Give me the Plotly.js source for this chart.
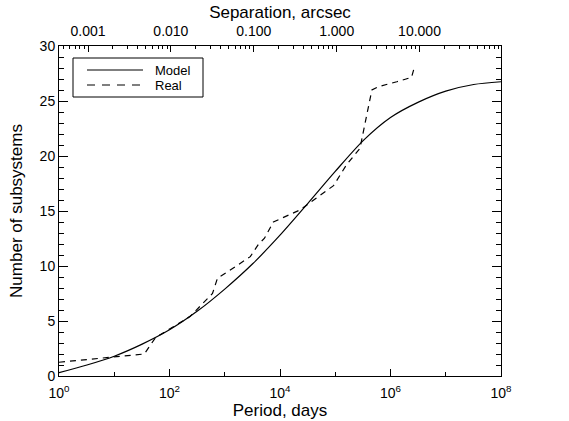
<!DOCTYPE html>
<html><head><meta charset="utf-8">
<script src="https://cdn.plot.ly/plotly-3.0.1.min.js"></script>
<style>html,body{margin:0;padding:0;background:#fff}</style>
</head><body><div id="chart" style="width:569px;height:421px"></div>
<script>
// Model curve: period (days) vs number of subsystems
const modelPeriod = [1, 3.2, 10, 32, 100, 320, 1000, 3200, 1e4, 3.2e4, 1e5, 3.2e5, 1e6, 3.2e6, 1e7, 3.2e7, 1e8];
const modelCount  = [0.3, 1.0, 1.8, 2.9, 4.2, 5.9, 7.9, 10.2, 12.8, 15.7, 18.6, 21.4, 23.5, 24.9, 25.9, 26.5, 26.75];

// Real (observed) cumulative curve
const realPeriod = [1, 8, 35, 56, 235, 600, 740, 1150, 1900, 2900, 4100, 5200, 7600, 13000, 23000, 37000, 60000, 93000, 160000, 280000, 460000, 600000, 1.3e6, 2.4e6, 2.75e6];
const realCount  = [1.25, 1.7, 2.0, 3.5, 5.4, 7.5, 8.9, 9.5, 10.2, 10.85, 12.0, 12.5, 14.0, 14.5, 15.1, 15.85, 16.6, 17.3, 19.2, 20.7, 26.0, 26.3, 26.75, 27.15, 28.2];

// Axis ticks
const periodTicks = [1, 100, 1e4, 1e6, 1e8];
const periodTickText = ['10<sup>0</sup>', '10<sup>2</sup>', '10<sup>4</sup>', '10<sup>6</sup>', '10<sup>8</sup>'];
const periodMinor = [10, 1e3, 1e5, 1e7];
const sepTicks = [0.001, 0.01, 0.1, 1, 10];
const sepTickText = ['0.001', '0.010', '0.100', '1.000', '10.000'];
const sepRangeLog = [-3.35, 1.983];
const legendNames = ['Model', 'Real'];

const sepMinor = [];
for (let d = -4; d <= 1; d++) {
  for (let k = 2; k <= 9; k++) {
    const v = k * Math.pow(10, d);
    const lv = Math.log10(v);
    if (lv > sepRangeLog[0] && lv < sepRangeLog[1]) sepMinor.push(v);
  }
}

const W = 569, H = 421, M = {l: 59, r: 68, t: 46, b: 45};
const pw = W - M.l - M.r, ph = H - M.t - M.b;
const px = x => (x - M.l) / pw;
const py = y => (H - M.b - y) / ph;

const dashStyle = '6px,5px';

const traces = [
  {x: modelPeriod, y: modelCount, type: 'scatter', mode: 'lines', name: legendNames[0],
   line: {color: '#000', width: 1.2, shape: 'spline', smoothing: 0.8}},
  {x: realPeriod, y: realCount, type: 'scatter', mode: 'lines', name: legendNames[1],
   line: {color: '#000', width: 1.2, dash: dashStyle}},
  {x: [1], y: [null], xaxis: 'x2', type: 'scatter', mode: 'lines', showlegend: false, hoverinfo: 'skip'}
];

const axisCommon = {showgrid: false, zeroline: false, tickcolor: '#000', linecolor: '#000', linewidth: 1};

// legend box drawn as shapes/annotations to match the original compact box
const legendRows = [70, 85];
const shapes = [
  {type: 'rect', xref: 'paper', yref: 'paper', x0: px(73), x1: px(203), y0: py(97), y1: py(58),
   line: {color: '#000', width: 1}, fillcolor: 'rgba(0,0,0,0)'},
  {type: 'line', xref: 'paper', yref: 'paper', x0: px(87), x1: px(143), y0: py(legendRows[0]), y1: py(legendRows[0]),
   line: {color: '#000', width: 1.2}},
  {type: 'line', xref: 'paper', yref: 'paper', x0: px(87), x1: px(143), y0: py(legendRows[1]), y1: py(legendRows[1]),
   line: {color: '#000', width: 1.2, dash: '8px,7px'}}
];
const annotations = legendNames.map((name, i) => ({
  xref: 'paper', yref: 'paper', x: px(154), y: py(legendRows[i]), text: name, showarrow: false,
  xanchor: 'left', yanchor: 'middle', borderpad: 0, font: {size: 13}
}));

const layout = {
  width: W, height: H,
  margin: M,
  paper_bgcolor: '#fff', plot_bgcolor: '#fff',
  font: {family: 'Liberation Sans, Arial, sans-serif', size: 14, color: '#000'},
  showlegend: false,
  shapes: shapes,
  annotations: annotations,
  xaxis: Object.assign({}, axisCommon, {
    type: 'log', range: [0, 8], tickmode: 'array', tickvals: periodTicks, ticktext: periodTickText,
    ticks: 'inside', ticklen: 7, showline: true, mirror: true, ticklabelstandoff: 4,
    minor: {tickmode: 'array', tickvals: periodMinor, ticks: 'inside', ticklen: 4, tickcolor: '#000', showgrid: false},
    title: {text: 'Period, days', standoff: 3}
  }),
  xaxis2: Object.assign({}, axisCommon, {
    type: 'log', overlaying: 'x', side: 'top', anchor: 'y', range: sepRangeLog,
    tickmode: 'array', tickvals: sepTicks, ticktext: sepTickText,
    ticks: 'inside', ticklen: 6, showline: false, ticklabelstandoff: 6,
    minor: {tickmode: 'array', tickvals: sepMinor, ticks: 'inside', ticklen: 3, tickcolor: '#000', showgrid: false},
    title: {text: 'Separation, arcsec', standoff: 0}
  }),
  yaxis: Object.assign({}, axisCommon, {
    range: [0, 30], tickmode: 'linear', tick0: 0, dtick: 5,
    ticks: 'inside', ticklen: 9, showline: true, mirror: 'ticks',
    minor: {dtick: 1, ticks: 'inside', ticklen: 5, tickcolor: '#000', showgrid: false},
    title: {text: 'Number of subsystems', standoff: 12}
  })
};

Plotly.newPlot('chart', traces, layout, {staticPlot: true, displayModeBar: false});
</script>
</body></html>
